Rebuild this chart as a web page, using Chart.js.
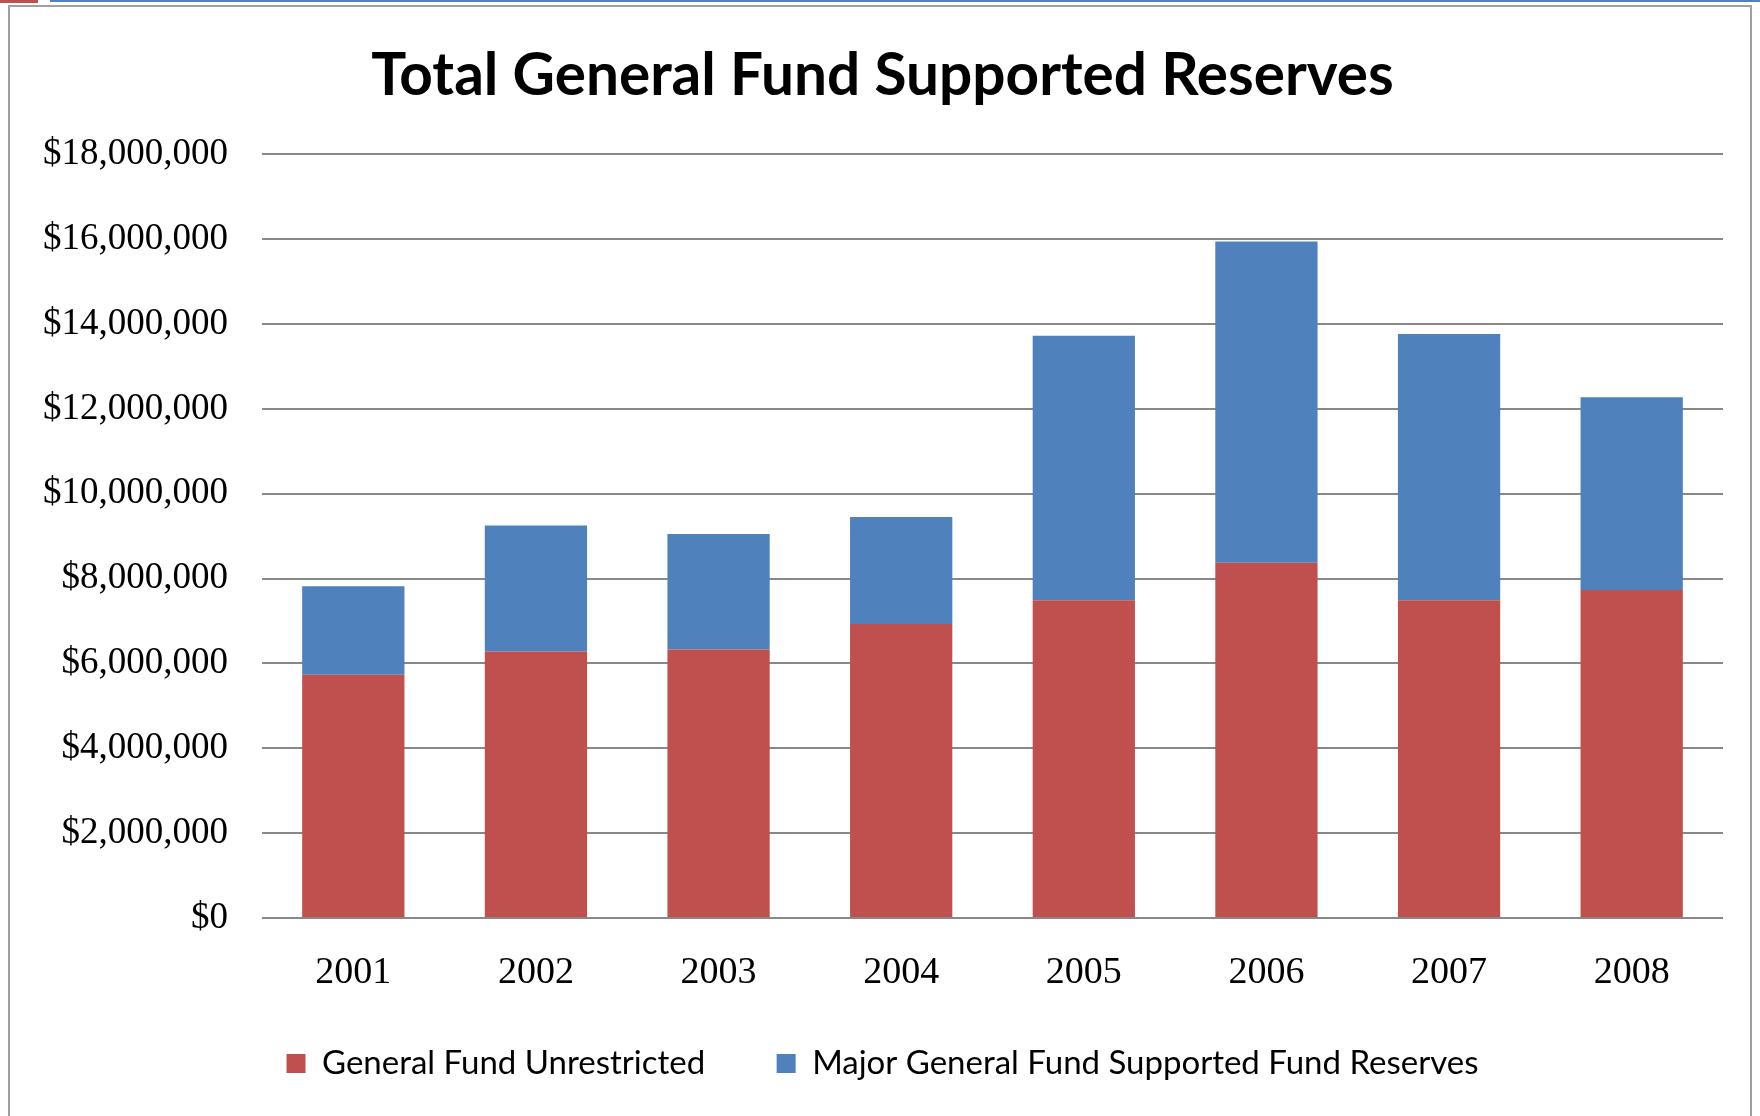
<!DOCTYPE html>
<html>
<head>
<meta charset="utf-8">
<title>Total General Fund Supported Reserves</title>
<script src="https://cdn.jsdelivr.net/npm/chart.js@4"></script>
<style>
    html, body { margin: 0; padding: 0; background: #ffffff; }
    #wrap { position: relative; width: 1760px; height: 1116px; overflow: hidden; }
    #lineaRoja { position: absolute; left: 0; top: 0; width: 38px; height: 3px; background: #c0504d; }
    #lineaAzul { position: absolute; left: 50px; top: 0; width: 1710px; height: 2px; background: #4f81bd; }
    #marco { position: absolute; left: 8px; top: 5px; width: 1744px; height: 1130px;
             border: 2px solid #a0a0a0; box-sizing: border-box; }
    canvas { position: absolute; left: 0; top: 0; }
</style>
</head>
<body>
<div id="wrap">
    <div id="lineaRoja"></div>
    <div id="lineaAzul"></div>
    <div id="marco"></div>
    <canvas id="graficoReservas" width="1760" height="1116"></canvas>
</div>
<script>
// Años (categorías)
const anios = ['2001', '2002', '2003', '2004', '2005', '2006', '2007', '2008'];

// General Fund Unrestricted (parte roja)
const fondoSinRestriccion = [5730000, 6280000, 6330000, 6930000, 7490000, 8370000, 7490000, 7730000];

// Major General Fund Supported Fund Reserves (parte azul, apilada encima)
const reservasMayores = [2090000, 2970000, 2720000, 2520000, 6230000, 7570000, 6270000, 4540000];

// Eje Y
const ejeMax = 18000000;
const ejePaso = 2000000;

const nombresSeries = ['General Fund Unrestricted', 'Major General Fund Supported Fund Reserves'];
const colores = ['#c0504d', '#4f81bd'];

document.addEventListener('DOMContentLoaded', function() {
    const ctx = document.getElementById('graficoReservas').getContext('2d');

    new Chart(ctx, {
        type: 'bar',
        data: {
            labels: anios,
            datasets: [
                {
                    label: nombresSeries[0],
                    data: fondoSinRestriccion,
                    backgroundColor: colores[0],
                    borderWidth: 0
                },
                {
                    label: nombresSeries[1],
                    data: reservasMayores,
                    backgroundColor: colores[1],
                    borderWidth: 0
                }
            ]
        },
        options: {
            responsive: false,
            animation: false,
            events: [],
            datasets: {
                bar: { barPercentage: 0.56, categoryPercentage: 1 }
            },
            layout: {
                padding: { left: 42, right: 37, top: 41, bottom: 26 }
            },
            plugins: {
                title: {
                    display: true,
                    text: 'Total General Fund Supported Reserves',
                    color: '#000000',
                    font: { family: 'Lato', size: 58.5, weight: 'bold' },
                    padding: { top: 0, bottom: 43 }
                },
                legend: {
                    position: 'bottom',
                    labels: {
                        color: '#000000',
                        font: { family: 'Lato', size: 33 },
                        boxWidth: 19,
                        boxHeight: 19,
                        padding: 55,
                        generateLabels: function(chart) {
                            const items = Chart.defaults.plugins.legend.labels.generateLabels(chart);
                            // un poco más de aire entre las dos entradas
                            items.forEach(function(item, i) {
                                if (i < items.length - 1) {
                                    item.text = item.text + '\u2002';
                                }
                            });
                            return items;
                        }
                    }
                },
                tooltip: { enabled: false }
            },
            scales: {
                x: {
                    stacked: true,
                    grid: { display: false, drawTicks: false },
                    border: { display: false },
                    ticks: {
                        color: '#000000',
                        padding: 36,
                        font: { family: 'Liberation Serif', size: 38, lineHeight: 1 }
                    },
                    // Chart.js cuenta el relleno dos veces; se ajusta la altura al texto real
                    afterFit: function(escala) {
                        escala.height = 74;
                    }
                },
                y: {
                    stacked: true,
                    min: 0,
                    max: ejeMax,
                    border: { display: false },
                    grid: {
                        color: '#888888',
                        lineWidth: 2,
                        drawTicks: false
                    },
                    ticks: {
                        stepSize: ejePaso,
                        color: '#000000',
                        padding: 34,
                        font: { family: 'Liberation Serif', size: 37 },
                        callback: function(valor) {
                            return '$' + valor.toLocaleString('en-US');
                        }
                    },
                    afterFit: function(escala) {
                        escala.width = 220;
                    }
                }
            }
        }
    });
});
</script>
</body>
</html>
